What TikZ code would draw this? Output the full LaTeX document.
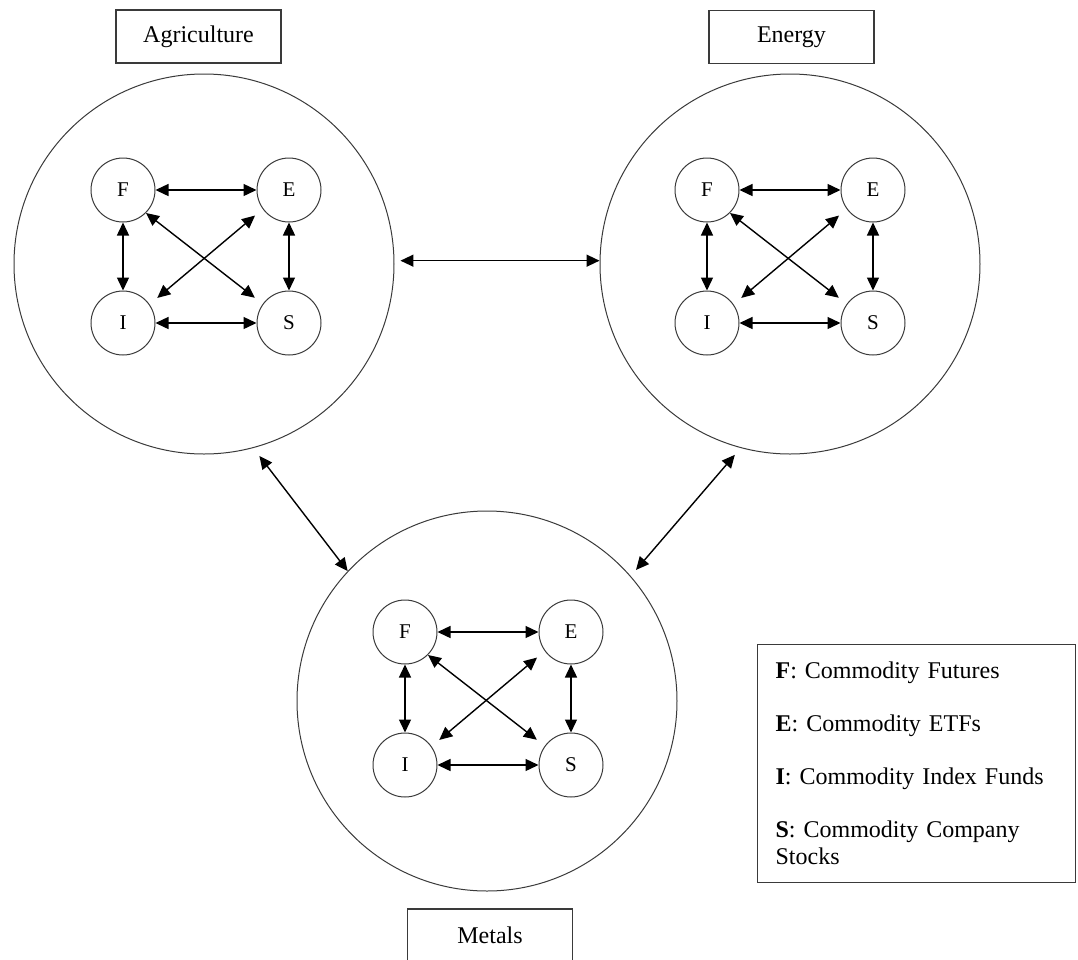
\documentclass[tikz,border=0pt]{standalone}
\usepackage{fontspec}
\setmainfont{Liberation Serif}
\usetikzlibrary{arrows.meta}
\definecolor{RingGray}{HTML}{3A3A3A}
% one market: four asset classes and their six links
\newcommand{\assetset}[3]{%
  \node[asset] (#1F) at (#2,#3) {F};
  \node[asset] (#1E) at (#2+166,#3) {E};
  \node[asset] (#1I) at (#2,#3+133) {I};
  \node[asset] (#1S) at (#2+166,#3+133) {S};
  \draw[dbl] (#1F) -- (#1E);
  \draw[dbl] (#1I) -- (#1S);
  \draw[dbl] (#1F) -- (#1I);
  \draw[dbl] (#1E) -- (#1S);
  \draw[dbl, shorten >=5pt] (#1F.-45) -- (#1S.144);
  \draw[dbl, shorten <=5pt, shorten >=5pt] (#1I.35) -- (#1E.-144);
}

\begin{document}
\begin{tikzpicture}[
    x=0.5pt, y=-0.5pt,
    market/.style={circle, draw=RingGray, line width=0.5pt, minimum size=190pt, inner sep=0pt},
    asset/.style={circle, draw=RingGray, line width=0.5pt, minimum size=32pt, inner sep=0pt, font=\fontsize{10.5}{12}\selectfont},
    tag/.style={draw=RingGray, line width=0.6pt, minimum width=82.5pt, minimum height=26.5pt, font=\fontsize{12}{14}\selectfont},
    legendbox/.style={draw=RingGray, line width=0.6pt, align=left, text width=141pt, inner xsep=9pt, minimum height=119pt, font=\fontsize{12}{13.5}\selectfont},
    dbl/.style={{Triangle[length=6.5pt,width=6pt]}-{Triangle[length=6.5pt,width=6pt]}, line width=0.7pt}
]
\useasboundingbox (0,0) rectangle (1078,960);
% market circles
\node[market] (agri) at (204,264) {};
\node[market] (ener) at (790,264) {};
\node[market] (meta) at (487,701) {};
% titles
\node[tag] (agritag) at (198.5,36.5) {Agriculture};
\node[tag] (enertag) at (791.5,37) {Energy};
\node[tag] (metatag) at (490,935.5) {Metals};
% assets inside each market
\assetset{a}{123}{190}
\assetset{e}{707}{190}
\assetset{m}{405}{632}
% links between markets
\draw[dbl, shorten <=3pt] (agri.1) -- (ener.179);
\draw[dbl, shorten <=5pt] (agri.-75) -- (meta.137);
\draw[dbl, shorten <=4.5pt, shorten >=4pt] (ener.-105) -- (meta.41);
% key
\node[legendbox, anchor=north west] (key) at (757,644) {%
\textbf{F}: Commodity Futures\\[13pt]
\textbf{E}: Commodity ETFs\\[13pt]
\textbf{I}: Commodity Index Funds\\[13pt]
\textbf{S}: Commodity Company\\
Stocks\par\vspace{3pt}};
\end{tikzpicture}
\end{document}
